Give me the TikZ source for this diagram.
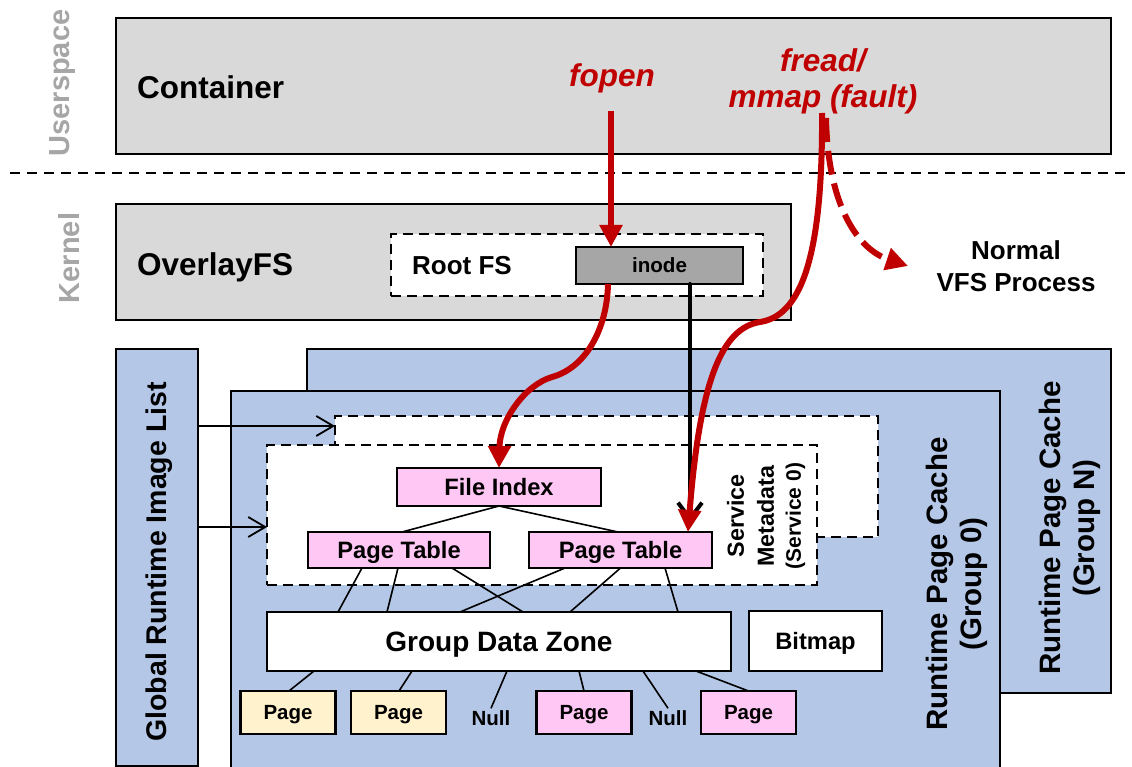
\documentclass[tikz,border=0pt]{standalone}
\usepackage{fontspec}
\setmainfont{Liberation Sans}
\usetikzlibrary{arrows.meta}
\definecolor{boxgray}{RGB}{217,217,217}
\definecolor{inodegray}{RGB}{166,166,166}
\definecolor{lblgray}{RGB}{166,166,166}
\definecolor{cacheblue}{RGB}{180,199,231}
\definecolor{pagepink}{RGB}{255,199,244}
\definecolor{pagecream}{RGB}{255,242,204}
\definecolor{darkred}{RGB}{192,0,0}
\newcommand\myfs[1]{\fontsize{#1}{#1}\selectfont}
\begin{document}
\begin{tikzpicture}[x=1pt,y=-1pt,
  box/.style={draw=black,line width=2.2pt,inner sep=0pt,outer sep=0pt,text depth=0pt},
  dbox/.style={draw=black,line width=2.2pt,dash pattern=on 10pt off 6pt,fill=white,inner sep=0pt,outer sep=0pt},
  link/.style={draw=black,line width=1.6pt},
  thinarrow/.style={draw=black,line width=1.8pt,-{Straight Barb[length=17pt,width=20pt]}},
  redline/.style={draw=darkred,line width=6pt,-{Triangle[length=22pt,width=22pt]}},
  lbl/.style={inner sep=0pt,font=\bfseries\myfs{24}},
  vlbl/.style={inner sep=0pt,rotate=90,text=lblgray,font=\bfseries\myfs{29}},
  pagebox/.style={box,minimum width=95pt,minimum height=43pt,font=\bfseries\myfs{20.5}},
  nulltxt/.style={inner sep=2pt,font=\bfseries\myfs{20.5}},
]
\useasboundingbox (0,0) rectangle (1132,767);

% layer labels
\node[vlbl] (userspace) at (63,83) {Userspace};
\node[vlbl] (kernel) at (69.5,258) {Kernel};

% userspace container
\node[box,fill=boxgray,minimum width=995pt,minimum height=136pt] (container) at (613.5,86) {};
\node[lbl,anchor=base west,font=\bfseries\myfs{31.5}] (containerlbl) at (137,99) {Container};
\node[lbl,anchor=base west,text=darkred,font=\bfseries\itshape\myfs{31.5}] (fopen) at (569,87) {fopen};
\node[lbl,align=center,text=darkred,font=\bfseries\itshape\fontsize{31.5}{36}\selectfont] (fread) at (823,81) {fread/\\mmap (fault)};

% separator
\draw[black,line width=2.2pt,dash pattern=on 10pt off 7pt] (10,173) coordinate (sepL) -- (1132,173) coordinate (sepR);

% kernel overlay
\node[box,fill=boxgray,minimum width=675pt,minimum height=116pt] (overlay) at (453.5,262) {};
\node[lbl,anchor=base west,font=\bfseries\myfs{31.5}] (overlaylbl) at (137,276) {OverlayFS};
\node[dbox,minimum width=372pt,minimum height=62pt] (rootfs) at (577,265) {};
\node[lbl,anchor=base west,font=\bfseries\myfs{26}] (rootfslbl) at (412,275) {Root FS};
\node[box,fill=inodegray,minimum width=167pt,minimum height=37pt,font=\bfseries\myfs{20.6}] (inode) at (659.5,265.5) {inode};

\node[lbl,align=center,font=\bfseries\fontsize{26}{32}\selectfont] (vfs) at (1016,266) {Normal\\VFS Process};

% runtime page caches
\node[box,fill=cacheblue,minimum width=804pt,minimum height=344pt] (groupN) at (709,521) {};
\node[box,fill=cacheblue,minimum width=769pt,minimum height=399pt] (group0) at (615.5,590.5) {};
\node[rotate=90,align=center,inner sep=0pt,font=\bfseries\fontsize{29.5}{34}\selectfont] (groupNlbl) at (1070,528) {Runtime Page Cache\\(Group N)};
\node[rotate=90,align=center,inner sep=0pt,font=\bfseries\fontsize{29.5}{34}\selectfont] (group0lbl) at (957,584) {Runtime Page Cache\\(Group 0)};

\node[dbox,minimum width=543pt,minimum height=121pt] (svcN) at (606.5,476.5) {};
\node[dbox,minimum width=550pt,minimum height=140pt] (svc0) at (542,515) {};
\node[rotate=90,align=center,inner sep=0pt,font=\bfseries\fontsize{23.3}{30}\selectfont] (svclbl) at (766,516) {Service\\Metadata\\[-3pt]{\fontsize{21}{24}\selectfont(Service 0)}};

% global list
\node[box,fill=cacheblue,minimum width=82pt,minimum height=417pt] (global) at (157,557.5) {};
\node[rotate=90,inner sep=0pt,font=\bfseries\myfs{28.5}] (globallbl) at (159,562) {Global Runtime Image List};

% metadata boxes
\node[box,fill=pagepink,minimum width=204pt,minimum height=38pt,font=\bfseries\myfs{23.7}] (fileidx) at (499,487) {File Index};
\node[box,fill=pagepink,minimum width=182pt,minimum height=36pt,font=\bfseries\myfs{23.7}] (ptL) at (399,550) {Page Table};
\node[box,fill=pagepink,minimum width=183pt,minimum height=36pt,font=\bfseries\myfs{23.7}] (ptR) at (620.5,550) {Page Table};

\node[box,fill=white,minimum width=464pt,minimum height=59pt,font=\bfseries\myfs{28}] (gdz) at (499,641.5) {Group Data Zone};
\node[box,fill=white,minimum width=133pt,minimum height=60pt,font=\bfseries\myfs{23.7}] (bitmap) at (815.5,641) {Bitmap};

\node[pagebox,fill=pagecream] (page1) at (288,712.5) {Page};
\node[pagebox,fill=pagecream] (page2) at (398.5,712.5) {Page};
\node[nulltxt] (null1) at (491,718) {Null};
\node[pagebox,fill=pagepink] (page3) at (584,712.5) {Page};
\node[nulltxt] (null2) at (668,718) {Null};
\node[pagebox,fill=pagepink] (page4) at (748.5,712.5) {Page};

% tree links
\draw[link] (fileidx.south) -- ([xshift=3pt]ptL.north);
\draw[link] (fileidx.south) -- ([xshift=-2.5pt]ptR.north);
\draw[link] ([xshift=-37pt]ptL.south) -- ([xshift=-161pt]gdz.north);
\draw[link] ([xshift=-1pt]ptL.south) -- ([xshift=-112pt]gdz.north);
\draw[link] ([xshift=53pt]ptL.south) -- ([xshift=24pt]gdz.north);
\draw[link] ([xshift=-55.5pt]ptR.south) -- ([xshift=-39pt]gdz.north);
\draw[link] ([xshift=0pt]ptR.south) -- ([xshift=71pt]gdz.north);
\draw[link] ([xshift=44.5pt]ptR.south) -- ([xshift=179pt]gdz.north);
\draw[link] ([xshift=-185pt]gdz.south) -- ([xshift=1pt]page1.north);
\draw[link] ([xshift=-87pt]gdz.south) -- ([xshift=0.5pt]page2.north);
\draw[link] ([xshift=8pt]gdz.south) -- (null1.north);
\draw[link] ([xshift=80pt]gdz.south) -- (page3.north);
\draw[link] ([xshift=144pt]gdz.south) -- (null2.north);
\draw[link] ([xshift=197pt]gdz.south) -- (page4.north);

% global list arrows
\path ([yshift=-10pt]svcN.north west) coordinate (svcNin);
\path ([yshift=-12pt]svc0.west) coordinate (svc0in);
\draw[thinarrow] (global.east |- svcNin) -- (svcNin);
\draw[thinarrow] (global.east |- svc0in) -- (svc0in);

% black inode pointer
\draw[black,line width=4pt,line cap=round,-{Straight Barb[length=16pt,width=24pt]}] ([xshift=30.5pt]inode.south) -- ([xshift=69.5pt,yshift=10pt]ptR.north);

% red paths
\coordinate (fopenstart) at (611,111);
\draw[redline] (fopenstart) -- ([xshift=-48.5pt]inode.north);
\draw[redline] ([xshift=-51.5pt]inode.south) .. controls (607,330) and (585,368) .. (552,377) .. controls (525,385) and (500,420) .. (fileidx.north);
\coordinate (freadstart) at (822,113);
\draw[redline] (freadstart) .. controls (823,260) and (800,316) .. (760,322) .. controls (722,328) and (700,380) .. ([xshift=67.5pt]ptR.north);
\coordinate (vfsstart) at (826,118);
\coordinate (vfsend) at (908,266);
\draw[draw=darkred,line width=6pt,dash pattern=on 24pt off 9pt,-{Triangle[length=22pt,width=22pt]}] (vfsstart) .. controls (828,210) and (860,250) .. (vfsend);
\end{tikzpicture}
\end{document}
